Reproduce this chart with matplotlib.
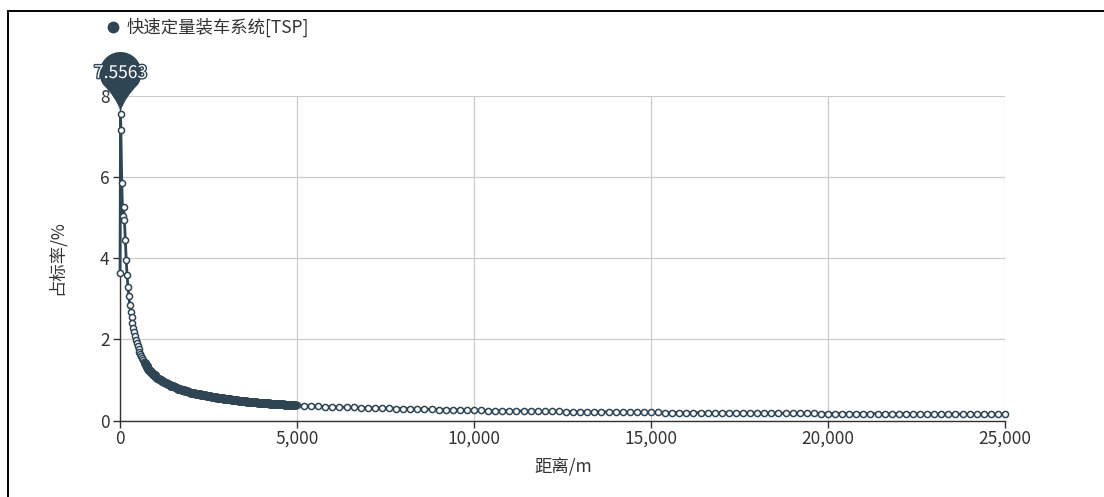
import numpy as np
import matplotlib
matplotlib.use('Agg')
import matplotlib.pyplot as plt
from matplotlib.path import Path
from matplotlib.patches import PathPatch, Rectangle
from matplotlib.lines import Line2D
from matplotlib.transforms import IdentityTransform, Affine2D
from matplotlib.ticker import FuncFormatter
import matplotlib.patheffects as pe

plt.rcParams['font.family'] = ['Noto Sans CJK SC', 'DejaVu Sans']

series_name = '快速定量装车系统[TSP]'
x_label = '距离/m'
y_label = '占标率/%'
x_ticks = [0, 5000, 10000, 15000, 20000, 25000]
y_ticks = [0, 2, 4, 6, 8]
max_label = '7.5563'

near_dist = [1, 15, 25, 50, 75, 100, 125, 150, 175, 200, 225, 250]
near_rate = [3.63, 7.5563, 7.15, 5.86, 5.03, 5.26, 4.95, 4.44, 3.96, 3.58, 3.29, 3.06]

mid_dist = list(range(275, 1001, 25))
mid_rate = [2.85, 2.68, 2.54, 2.41, 2.29,
            2.18, 2.08, 1.99, 1.91, 1.83,
            1.76, 1.70, 1.64, 1.58, 1.53,
            1.48, 1.44, 1.41, 1.37, 1.34,
            1.31, 1.28, 1.25, 1.22, 1.20,
            1.17, 1.15, 1.13, 1.11, 1.09]

far_dist = list(range(1050, 5001, 50))
far_rate = [1.06, 1.03, 1.00, 0.975,
            0.95, 0.925, 0.90, 0.88,
            0.86, 0.84, 0.82, 0.80,
            0.785, 0.77, 0.755, 0.74,
            0.727, 0.715, 0.702, 0.69,
            0.68, 0.671, 0.662, 0.653, 0.644, 0.636, 0.628, 0.62, 0.61, 0.60,
            0.593, 0.586, 0.579, 0.572, 0.565, 0.558, 0.551, 0.544, 0.537, 0.53,
            0.524, 0.518, 0.512, 0.507, 0.502, 0.497, 0.492, 0.487, 0.482, 0.477,
            0.472, 0.467, 0.463, 0.459, 0.455, 0.451, 0.447, 0.443, 0.439, 0.435,
            0.431, 0.427, 0.424, 0.421, 0.418, 0.414, 0.411, 0.408, 0.405, 0.402,
            0.399, 0.396, 0.393, 0.390, 0.387, 0.384, 0.381, 0.378, 0.375, 0.372]

tail_dist = list(range(5200, 25001, 200))
tail_rate = [0.365, 0.358, 0.351, 0.344, 0.337,
             0.331, 0.326, 0.321, 0.316, 0.311,
             0.306, 0.302, 0.298, 0.294, 0.290,
             0.286, 0.281, 0.277, 0.272, 0.268,
             0.264, 0.261, 0.257, 0.254, 0.250,
             0.247, 0.245, 0.242, 0.240, 0.237,
             0.235, 0.233, 0.230, 0.228, 0.226,
             0.224, 0.222, 0.220, 0.218, 0.216,
             0.214, 0.212, 0.211, 0.209, 0.207,
             0.206, 0.204, 0.203, 0.201, 0.200,
             0.199, 0.197, 0.196, 0.194, 0.193,
             0.192, 0.191, 0.189, 0.188, 0.187,
             0.186, 0.185, 0.183, 0.182, 0.181,
             0.180, 0.179, 0.178, 0.177, 0.176,
             0.175, 0.174, 0.173, 0.172, 0.171,
             0.170, 0.170, 0.169, 0.168, 0.167,
             0.166, 0.166, 0.165, 0.164, 0.163,
             0.162, 0.162, 0.161, 0.160, 0.159,
             0.158, 0.158, 0.157, 0.156, 0.155,
             0.154, 0.154, 0.153, 0.152, 0.151]

dist = near_dist + mid_dist + far_dist + tail_dist
rate = near_rate + mid_rate + far_rate + tail_rate

COLOR = '#2f4554'
TEXT = '#333333'
W, H = 1104, 497

fig = plt.figure(figsize=(W / 100, H / 100), dpi=100)
ax = fig.add_axes([120 / W, 1 - 420.5 / H, (1005 - 120) / W, (420.5 - 96) / H])

ax.plot(dist, rate, color=COLOR, lw=2.0, marker='o', ms=4.4, mfc='white',
        mec=COLOR, mew=1.1, clip_on=False, zorder=3)

# where the samples are packed tightly the symbols merge into a solid band
dense_x = [x for x in dist if 700 <= x <= 4950]
dense_y = [y for x, y in zip(dist, rate) if 700 <= x <= 4950]
ax.plot(dense_x, dense_y, lw=0, marker='o', ms=6.0, mfc=COLOR, mec=COLOR,
        mew=0.5, zorder=3.5)

ax.set_xlim(0, 25000)
ax.set_ylim(0, 8)
ax.set_xticks(x_ticks)
ax.set_yticks(y_ticks)
ax.xaxis.set_major_formatter(FuncFormatter(lambda v, p: f'{int(v):,}'))
ax.grid(True, color='#cccccc', lw=0.9)
ax.set_axisbelow(True)
for s in ['top', 'right']:
    ax.spines[s].set_visible(False)
for s in ['left', 'bottom']:
    ax.spines[s].set_color(TEXT)
    ax.spines[s].set_linewidth(1.0)
ax.tick_params(axis='both', colors=TEXT, labelsize=12.5, length=5, width=1.0)
ax.tick_params(axis='x', pad=1.5)
ax.tick_params(axis='y', pad=2.5)

fig.text(57, H - 258, y_label, transform=IdentityTransform(), rotation=90,
         ha='center', va='center', fontsize=12.5, color=TEXT)
fig.text(563, H - 467, x_label, transform=IdentityTransform(),
         ha='center', va='center', fontsize=12.5, color=TEXT)

# legend
fig.add_artist(Line2D([113], [H - 27], marker='o', ms=7.5, color=COLOR, lw=0,
                      transform=IdentityTransform()))
fig.text(127, H - 27, series_name, transform=IdentityTransform(),
         ha='left', va='center', fontsize=12.5, color=TEXT)

# pin marker at maximum
fig.canvas.draw()
imax = int(np.argmax(rate))
tx, ty = ax.transData.transform((dist[imax], rate[imax]))
ty += 3
r, d = 21.0, 38.0
th = np.degrees(np.arccos(r / d))
a1 = -(90 - th)
a2 = 180 + (90 - th)
arc = Path.arc(a1, a2)
av = arc.vertices * r + np.array([0, d])
verts = [(0, 0), (5, 14), tuple(av[0])] + [tuple(v) for v in av[1:]] + [(-5, 14), (0, 0), (0, 0)]
codes = [Path.MOVETO, Path.CURVE3, Path.CURVE3] + list(arc.codes[1:]) + [Path.CURVE3, Path.CURVE3, Path.CLOSEPOLY]
pin = PathPatch(Path(verts, codes), facecolor=COLOR, edgecolor='none',
                transform=Affine2D().translate(tx, ty), zorder=10)
fig.add_artist(pin)
fig.text(tx, ty + d, max_label, transform=IdentityTransform(), ha='center', va='center',
         fontsize=12.5, color='white', zorder=11,
         path_effects=[pe.withStroke(linewidth=2, foreground=COLOR)])

# outer frame
fig.add_artist(Rectangle((8, -20), 1300, H - 11 + 20, fill=False, lw=1.4,
                         edgecolor='black', transform=IdentityTransform()))

fig.savefig('out.png', dpi=100)
